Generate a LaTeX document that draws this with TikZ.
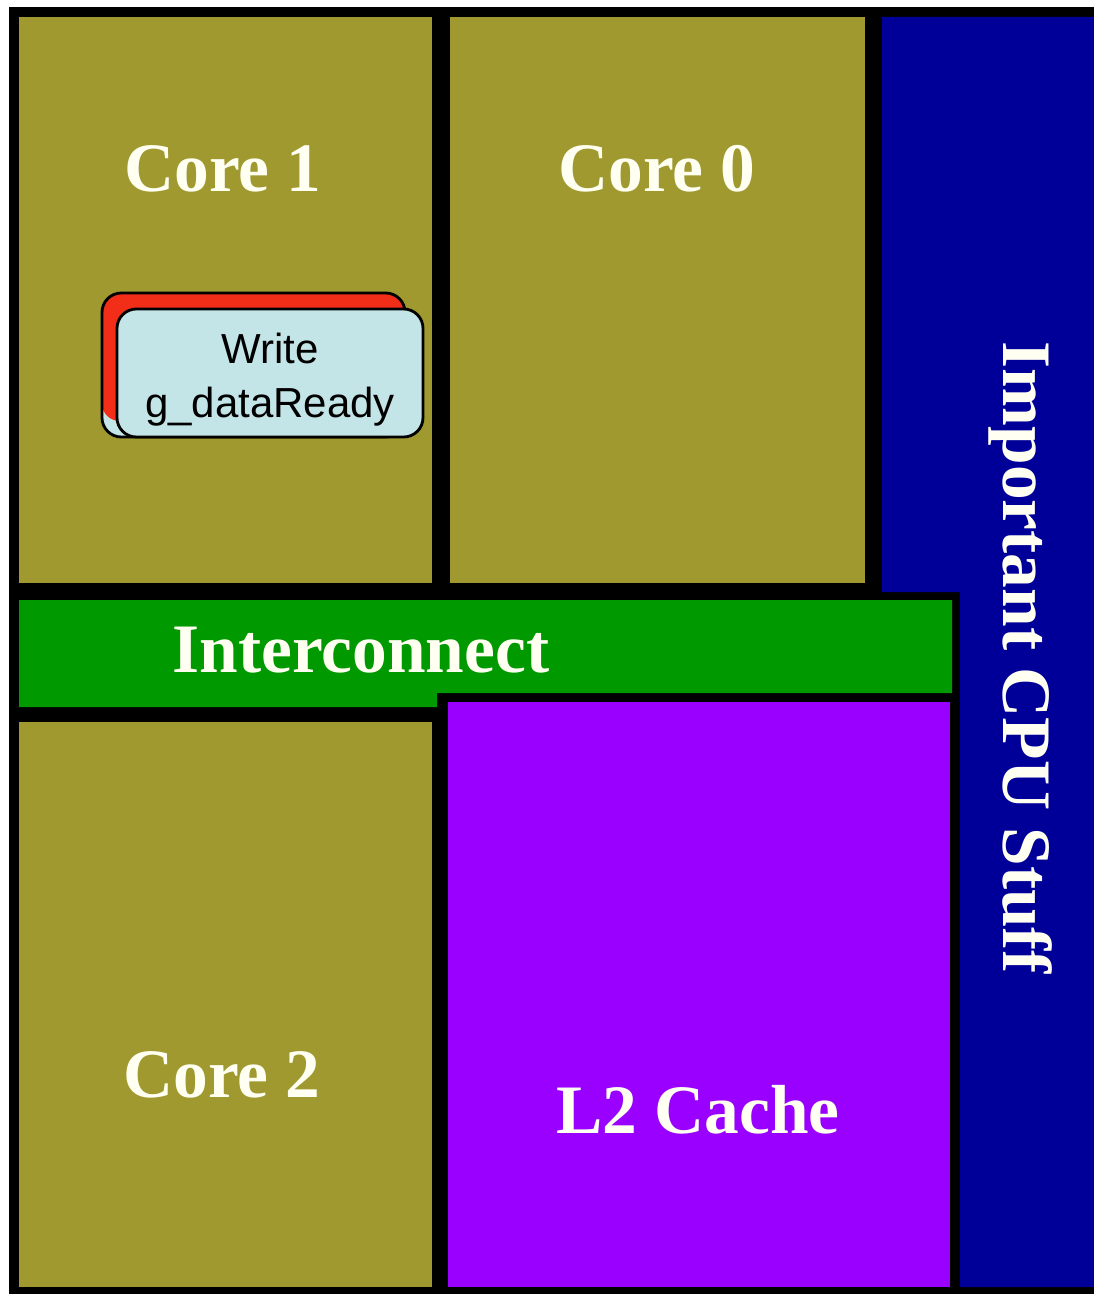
\documentclass[tikz,border=0pt]{standalone}
\usepackage{fontspec}
\setmainfont{Liberation Serif}
\setsansfont{Liberation Sans}
\usetikzlibrary{positioning}
\definecolor{die}{HTML}{A0992F}
\definecolor{bus}{HTML}{009900}
\definecolor{cache}{HTML}{9900FF}
\definecolor{misc}{HTML}{000099}
\definecolor{chalk}{HTML}{FFFFF2}
\definecolor{note}{HTML}{C4E5E8}
\definecolor{alert}{HTML}{F22E18}

\begin{document}
\begin{tikzpicture}[x=0.02cm, y=-0.02cm,
    unit/.style={font=\bfseries\fontsize{39.5}{40}\selectfont, text=chalk, inner sep=0pt, anchor=base},
    notebox/.style={fill=note, draw=black, line width=1.6pt, rounded corners=11pt}]
    \useasboundingbox (0,0) rectangle (1093,1294);
    % die outline: everything sits on black, the gaps are the borders
    \fill[black] (9,7) rectangle (1100,1300);
    % cores
    \fill[die] (19,17) rectangle (432,583);
    \fill[die] (450,17) rectangle (865,583);
    \fill[die] (19,722) rectangle (432,1287);
    % the rest of the chip (runs off the right edge)
    \fill[misc] (882,17) -- (1100,17) -- (1100,1287) -- (960,1287) -- (960,592) -- (882,592) -- cycle;
    \fill[bus] (19,600) -- (952,600) -- (952,693) -- (437,693) -- (437,707) -- (19,707) -- cycle;
    \fill[cache] (448,702) rectangle (950,1287);
    % labels
    \node[unit] (core1) at (223,192) {Core 1};
    \node[unit] (core0) at (657,192) {Core 0};
    \node[unit] (core2) at (222,1097) {Core 2};
    \node[unit] (link) at (361,672) {Interconnect};
    \node[unit] (l2) at (698,1133) {L2 Cache};
    \node[unit, rotate=-90] (stuff) at (1003,658) {Important CPU Stuff};
    % the store, with an older copy peeking out behind it
    \fill[note, rounded corners=11pt] (102,293) rectangle (405,437);
    \fill[alert, rounded corners=10pt] (102,293) rectangle (405,421);
    \draw[black, line width=1.6pt, rounded corners=11pt] (102,293) rectangle (405,437);
    \draw[notebox] (117,309) rectangle (423,437);
    \node[font=\sffamily\fontsize{23.9}{30.7}\selectfont, align=center, inner sep=0pt] (store) at (270,380) {Write\\g\_dataReady};
\end{tikzpicture}
\end{document}
